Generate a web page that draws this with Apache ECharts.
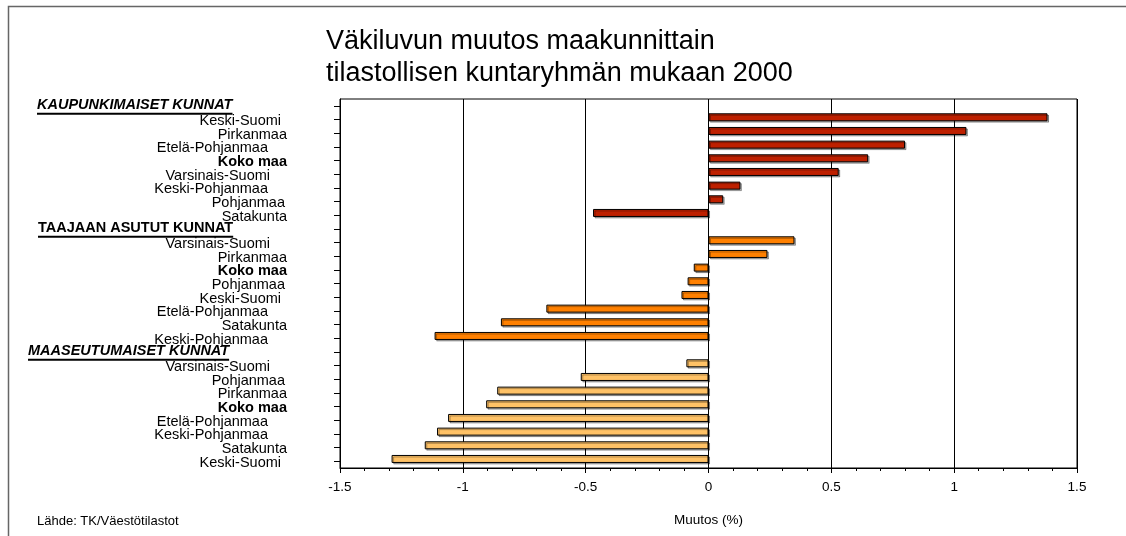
<!DOCTYPE html>
<html>
<head>
<meta charset="utf-8">
<script src="https://cdn.jsdelivr.net/npm/echarts@6/dist/echarts.min.js"></script>
<style>
html,body{margin:0;padding:0;background:#fff;}
#chart{width:1126px;height:536px;}
</style>
</head>
<body>
<div id="chart"></div>
<script>
// ---- data ----
var groups = ['KAUPUNKIMAISET KUNNAT', 'TAAJAAN ASUTUT KUNNAT', 'MAASEUTUMAISET KUNNAT'];
var regions1 = ['Keski-Suomi', 'Pirkanmaa', 'Etelä-Pohjanmaa', 'Koko maa', 'Varsinais-Suomi', 'Keski-Pohjanmaa', 'Pohjanmaa', 'Satakunta'];
var values1 = [1.38, 1.05, 0.80, 0.65, 0.53, 0.13, 0.06, -0.47];
var regions2 = ['Varsinais-Suomi', 'Pirkanmaa', 'Koko maa', 'Pohjanmaa', 'Keski-Suomi', 'Etelä-Pohjanmaa', 'Satakunta', 'Keski-Pohjanmaa'];
var values2 = [0.35, 0.24, -0.06, -0.085, -0.11, -0.66, -0.845, -1.115];
var regions3 = ['Varsinais-Suomi', 'Pohjanmaa', 'Pirkanmaa', 'Koko maa', 'Etelä-Pohjanmaa', 'Keski-Pohjanmaa', 'Satakunta', 'Keski-Suomi'];
var values3 = [-0.09, -0.52, -0.86, -0.905, -1.06, -1.105, -1.155, -1.29];
var xTicks = [-1.5, -1, -0.5, 0, 0.5, 1, 1.5];
var titleText = 'Väkiluvun muutos maakunnittain\ntilastollisen kuntaryhmän mukaan 2000';
var axisTitle = 'Muutos (%)';
var sourceText = 'Lähde: TK/Väestötilastot';

// ---- build ----
var regionLists = [regions1, regions2, regions3];
var valueLists = [values1, values2, values3];
var groupColors = ['#BE2000', '#FF8000', '#FFC266'];
var FONT = '"Liberation Sans", Arial, sans-serif';
var LABEL_SIZE = 14.5;

var categories = [];
var barData = [];
var emptyData = [];
var headerIndex = {};
groups.forEach(function (g, gi) {
  headerIndex[categories.length] = gi;
  categories.push(g);
  barData.push('-');
  emptyData.push('-');
  regionLists[gi].forEach(function (r, ri) {
    categories.push(r);
    barData.push({ value: valueLists[gi][ri], itemStyle: { color: groupColors[gi] } });
    emptyData.push('-');
  });
});

// label styling (positions only, not data)
var labelRight = 287;           // right edge of labels in px
var axisX = 340;
var extraPad = { 'Keski-Suomi': 6, 'Pohjanmaa': 2, 'Varsinais-Suomi': 17, 'Etelä-Pohjanmaa': 19, 'Keski-Pohjanmaa': 19 };
var headerLeft = [37, 38, 28];
var headerStyle = ['italic', 'normal', 'italic'];

function textWidth(str, font) {
  var c = document.createElement('canvas').getContext('2d');
  c.font = font;
  return c.measureText(str).width;
}

var rich = {
  n: { fontSize: LABEL_SIZE, fontFamily: FONT, color: '#000', lineHeight: 14 },
  b: { fontSize: LABEL_SIZE, fontFamily: FONT, color: '#000', fontWeight: 'bold', lineHeight: 14 },
  t: { height: 1, lineHeight: 2 },
  t2: { height: 1, lineHeight: 3 }
};
var padNames = {};
Object.keys(extraPad).forEach(function (k, i) {
  padNames[k] = 'p' + i;
  rich['p' + i] = { width: extraPad[k], height: 1 };
});
groups.forEach(function (g, gi) {
  var font = headerStyle[gi] + ' bold ' + LABEL_SIZE + 'px ' + FONT;
  var w = textWidth(g, font);
  var pad = Math.max(0, labelRight - headerLeft[gi] - w);
  rich['h' + gi] = { fontSize: LABEL_SIZE, fontFamily: FONT, fontWeight: 'bold', fontStyle: headerStyle[gi], color: '#000', lineHeight: 14 };
  rich['s' + gi] = { width: pad, height: 1 };
  rich['u' + gi] = { width: w, height: 2, backgroundColor: '#000', lineHeight: 3 };
});

var chart = echarts.init(document.getElementById('chart'), null, { renderer: 'canvas' });
chart.setOption({
  backgroundColor: '#fff',
  animation: false,
  title: {
    text: titleText,
    left: 321,
    top: 21,
    textStyle: { fontFamily: FONT, fontSize: 27, fontWeight: 'normal', color: '#000', lineHeight: 32 }
  },
  graphic: [
    { type: 'rect', left: 6, top: 4, shape: { width: 1200, height: 600 }, style: { fill: 'none', stroke: '#666', lineWidth: 1.5 }, silent: true, z: -1 },
    { type: 'text', left: 37, top: 515, style: { text: sourceText, font: '13px ' + FONT, fill: '#000' } }
  ],
  grid: { left: axisX, right: 49, top: 99, bottom: 68, show: true, borderColor: '#000', borderWidth: 1, backgroundColor: 'transparent' },
  xAxis: {
    type: 'value',
    min: xTicks[0],
    max: xTicks[xTicks.length - 1],
    interval: 0.5,
    name: axisTitle,
    nameLocation: 'middle',
    nameGap: 45,
    nameTextStyle: { fontFamily: FONT, fontSize: 13.5, color: '#000' },
    axisLine: { show: true, lineStyle: { color: '#000', width: 1 } },
    axisTick: { show: true, length: 5, lineStyle: { color: '#000' } },
    minorTick: { show: true, splitNumber: 5, length: 3, lineStyle: { color: '#000' } },
    splitLine: { show: true, lineStyle: { color: '#000', width: 1 } },
    axisLabel: { fontFamily: FONT, fontSize: 13.5, color: '#000', margin: 12 }
  },
  yAxis: {
    type: 'category',
    data: categories,
    inverse: true,
    axisLine: { show: true, onZero: false, lineStyle: { color: '#000', width: 1 } },
    axisTick: { show: true, alignWithLabel: true, length: 6, lineStyle: { color: '#000' } },
    splitLine: { show: false },
    axisLabel: {
      interval: 0,
      margin: axisX - labelRight,
      align: 'right',
      formatter: function (value, index) {
        if (headerIndex[index] !== undefined) {
          var gi = headerIndex[index];
          return '{t|}\n{h' + gi + '|' + value + '}{s' + gi + '|}\n{u' + gi + '|}{s' + gi + '|}';
        }
        var style = value === 'Koko maa' ? 'b' : 'n';
        var pad = padNames[value] ? '{' + padNames[value] + '|}' : '';
        return '{t2|}\n{' + style + '|' + value + '}' + pad;
      },
      rich: rich
    }
  },
  series: [{
    type: 'bar',
    name: 'Muutos',
    data: barData,
    barWidth: 8,
    barGap: '-45%',
    itemStyle: {
      borderColor: '#000',
      borderWidth: 1,
      shadowColor: 'rgba(0,0,0,0.3)',
      shadowOffsetX: 1.5,
      shadowOffsetY: 1.5,
      shadowBlur: 0.5
    }
  }, {
    type: 'bar',
    name: 'spacer',
    data: emptyData,
    barWidth: 8,
    silent: true
  }]
});
</script>
</body>
</html>
